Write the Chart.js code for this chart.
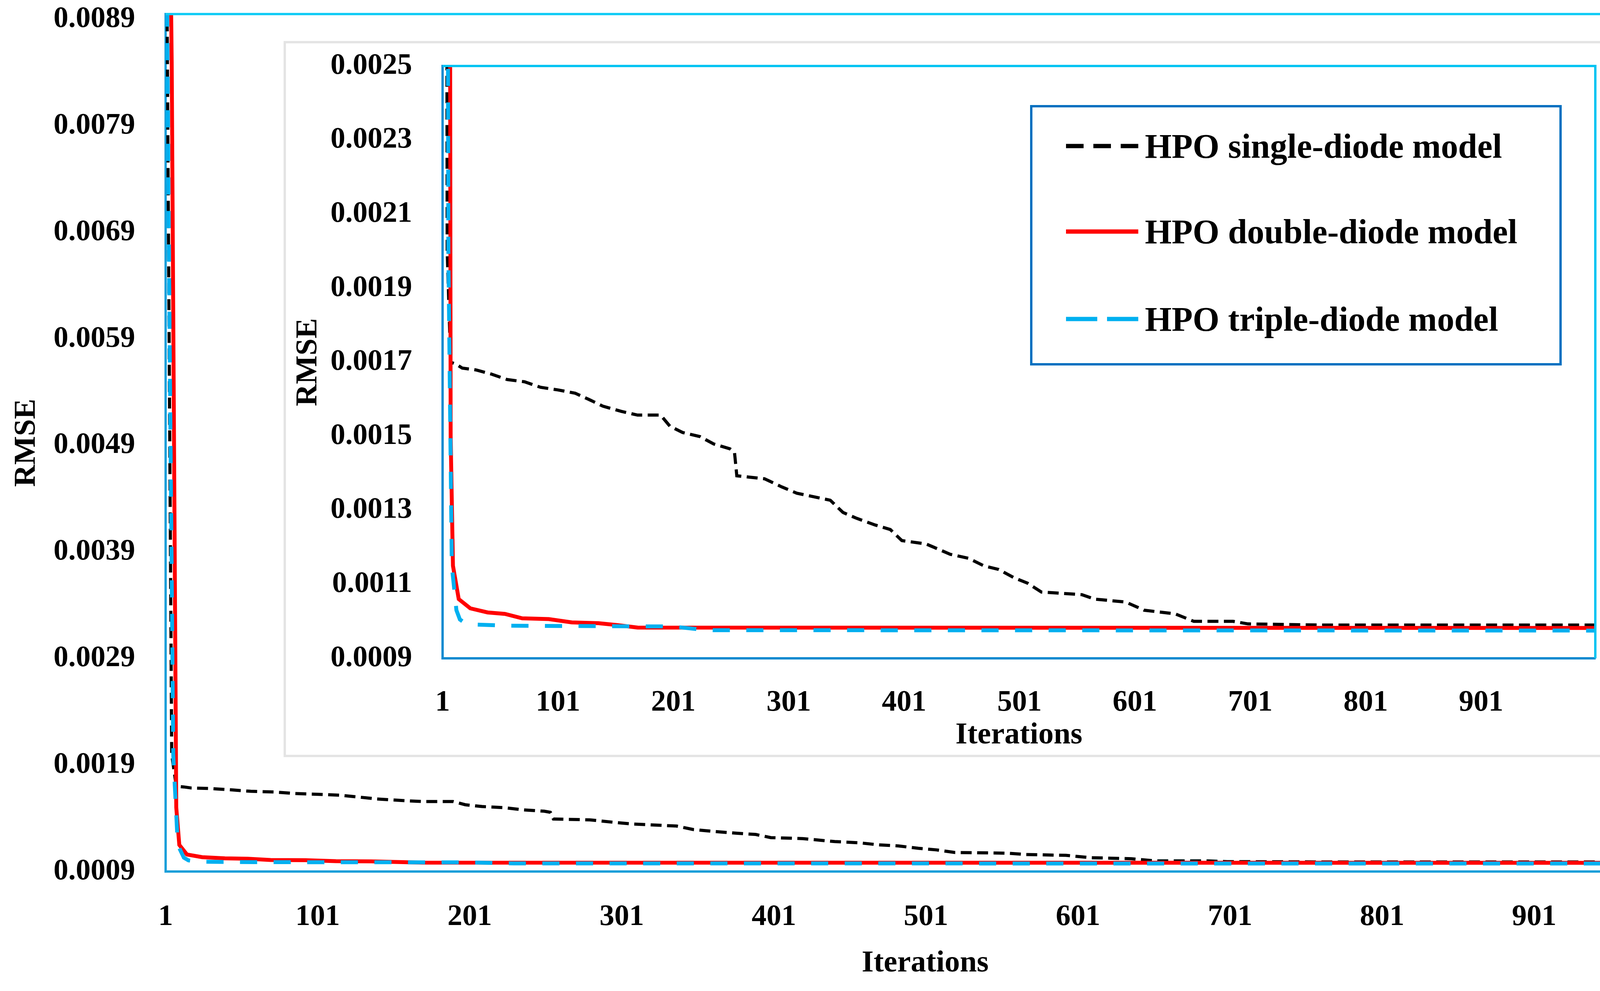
<!DOCTYPE html>
<html>
<head>
<meta charset="utf-8">
<script src="https://cdn.jsdelivr.net/npm/chart.js@4.4.1/dist/chart.umd.min.js"></script>
<style>
html, body { margin: 0; padding: 0; background: #fff; }
body { width: 4344px; height: 2538px; position: relative; overflow: hidden; font-family: 'Liberation Serif', 'DejaVu Serif', serif; }
#main { position: absolute; left: 0; top: 0; }
#insetFrame { position: absolute; left: 726px; top: 105px; width: 3499px; height: 1834px; box-sizing: border-box; border: 6px solid #e4e4e4; background: #fff; }
#inset { position: absolute; left: 726px; top: 105px; }
#legend { position: absolute; left: 2637px; top: 269px; width: 1361px; height: 667px; box-sizing: border-box; border: 6px solid #0070c0; background: #fff; }
.row { position: absolute; left: 0; height: 100px; display: flex; align-items: center; }
.row svg { margin-left: 86px; flex: none; }
.row span { margin-left: 17px; font-weight: bold; font-size: 88px; color: #000; white-space: nowrap; }
</style>
</head>
<body>
<canvas id="main" width="4344" height="2538"></canvas>
<div id="insetFrame"></div>
<canvas id="inset" width="3499" height="1834"></canvas>
<div id="legend">
  <div class="row" style="top:49px"><svg width="185" height="20"><line x1="0" y1="10" x2="185" y2="10" stroke="#000" stroke-width="11" stroke-dasharray="45 25"/></svg><span>HPO single-diode model</span></div>
  <div class="row" style="top:268px"><svg width="185" height="20"><line x1="0" y1="10" x2="185" y2="10" stroke="#ff0000" stroke-width="11"/></svg><span>HPO double-diode model</span></div>
  <div class="row" style="top:492px"><svg width="185" height="20"><line x1="0" y1="10" x2="185" y2="10" stroke="#00b0f0" stroke-width="11" stroke-dasharray="80 25"/></svg><span>HPO triple-diode model</span></div>
</div>
<script>
// convergence curves (iteration, RMSE)
const singleIter = [1, 5, 8, 13, 18, 30, 43, 57, 72, 86, 101, 116, 128, 140, 156, 170, 190, 198, 209, 224, 236, 250, 254, 256, 280, 295, 308, 337, 348, 360, 376, 389, 399, 420, 441, 457, 470, 483, 496, 508, 520, 555, 566, 593, 609, 636, 652, 686, 699, 760, 1000];
const singleRmse = [0.0112, 0.0020, 0.00170, 0.001694, 0.001684, 0.001679, 0.001668, 0.001653, 0.001647, 0.001632, 0.001625, 0.001616, 0.001599, 0.001581, 0.001567, 0.001557, 0.001557, 0.001527, 0.00151, 0.001499, 0.001479, 0.001466, 0.001456, 0.001393, 0.001385, 0.001363, 0.001346, 0.001327, 0.001294, 0.001278, 0.00126, 0.001248, 0.001218, 0.001209, 0.001181, 0.00117, 0.00115, 0.00114, 0.001118, 0.001103, 0.001079, 0.001072, 0.00106, 0.001052, 0.00103, 0.00102, 0.001, 0.001, 0.000993, 0.00099, 0.00099];

const doubleIter = [1, 5, 8, 10, 15, 25, 40, 55, 70, 93, 113, 136, 152, 170, 1000];
const doubleRmse = [0.0135, 0.0085, 0.0015, 0.00115, 0.00106, 0.001035, 0.001024, 0.00102, 0.001008, 0.001006, 0.000997, 0.000995, 0.00099, 0.000983, 0.000982];

const tripleIter = [1, 3, 6, 9, 13, 16, 22, 60, 200, 230, 1000];
const tripleRmse = [0.0112, 0.0070, 0.0020, 0.00115, 0.00103, 0.001005, 0.000992, 0.000988, 0.000986, 0.000976, 0.000975];

const seriesNames = ['HPO single-diode model', 'HPO double-diode model', 'HPO triple-diode model'];

const xTicks = [1, 101, 201, 301, 401, 501, 601, 701, 801, 901];
const mainYTicks = [0.0009, 0.0019, 0.0029, 0.0039, 0.0049, 0.0059, 0.0069, 0.0079, 0.0089];
const insetYTicks = [0.0009, 0.0011, 0.0013, 0.0015, 0.0017, 0.0019, 0.0021, 0.0023, 0.0025];

const FONT = "'Liberation Serif', 'DejaVu Serif', serif";
const tickFont = { family: FONT, size: 76, weight: 'bold', lineHeight: 0.9 };
const titleFont = { family: FONT, size: 78, weight: 'bold', lineHeight: 1 };

// top and right edges of the plot box
const frameLines = {
  id: 'frameLines',
  afterDatasetsDraw(chart, args, opts) {
    const ctx = chart.ctx, a = chart.chartArea;
    ctx.save();
    ctx.strokeStyle = opts.color;
    ctx.lineWidth = opts.width;
    ctx.beginPath();
    ctx.moveTo(a.left, a.top);
    ctx.lineTo(a.right, a.top);
    ctx.lineTo(a.right, a.bottom);
    ctx.stroke();
    ctx.restore();
  }
};

function points(iters, vals) {
  return iters.map((x, i) => ({ x: x, y: vals[i] }));
}

function datasets() {
  return [
    { label: seriesNames[0], data: points(singleIter, singleRmse), borderColor: '#000000', borderWidth: 8, borderDash: [28, 14], order: 2 },
    { label: seriesNames[1], data: points(doubleIter, doubleRmse), borderColor: '#ff0000', borderWidth: 10, order: 1 },
    { label: seriesNames[2], data: points(tripleIter, tripleRmse), borderColor: '#00b0f0', borderWidth: 10, borderDash: [44, 42], order: 0 }
  ].map(d => Object.assign(d, { pointRadius: 0, tension: 0, fill: false }));
}

// pin the scale size and drop the label overhang so the plot box lands where it should
function pin(s, key, size) {
  s[key] = size;
  s.paddingTop = 0; s.paddingBottom = 0; s.paddingLeft = 0; s.paddingRight = 0;
}

function build(id, o) {
  return new Chart(document.getElementById(id), {
    type: 'line',
    data: { datasets: datasets() },
    options: {
      responsive: false,
      animation: false,
      devicePixelRatio: 1,
      layout: { padding: o.pad },
      plugins: {
        legend: { display: false },
        tooltip: { enabled: false },
        frameLines: { color: o.frameColor, width: 6 }
      },
      scales: {
        x: {
          type: 'linear', min: 1, max: 1000,
          afterBuildTicks: s => { s.ticks = xTicks.map(v => ({ value: v })); },
          afterFit: s => pin(s, 'height', o.xHeight),
          ticks: { font: tickFont, color: '#000', padding: o.xPad, autoSkip: false, maxRotation: 0, callback: v => String(v) },
          grid: { display: false, drawTicks: false },
          border: { display: true, color: o.axisColor, width: 6 },
          title: { display: true, text: 'Iterations', font: titleFont, color: '#000', padding: { top: 0, bottom: o.xTitlePad } }
        },
        y: {
          type: 'linear', min: o.yMin, max: o.yMax,
          afterBuildTicks: s => { s.ticks = o.yTicks.map(v => ({ value: v })); },
          afterFit: s => pin(s, 'width', o.yWidth),
          ticks: { font: tickFont, color: '#000', padding: 78, autoSkip: false, callback: v => v.toFixed(4) },
          grid: { display: false, drawTicks: false },
          border: { display: true, color: o.axisColor, width: 6 },
          title: { display: true, text: 'RMSE', font: titleFont, color: '#000', padding: { top: o.yTitlePad, bottom: 0 } }
        }
      }
    },
    plugins: [frameLines]
  });
}

build('main', {
  pad: { left: 0, top: 36, right: 31, bottom: 0 },
  yMin: 0.0009, yMax: 0.00895, yTicks: mainYTicks,
  yWidth: 424, xHeight: 306, xPad: 83, xTitlePad: 31, yTitlePad: 30,
  axisColor: '#1b9fd9', frameColor: '#12ccf5'
});

build('inset', {
  pad: { left: 0, top: 64, right: 141, bottom: 0 },
  yMin: 0.0009, yMax: 0.0025, yTicks: insetYTicks,
  yWidth: 407, xHeight: 253, xPad: 80, xTitlePad: 16, yTitlePad: 25,
  axisColor: '#0a8ad0', frameColor: '#00c4f2'
});
</script>
</body>
</html>
